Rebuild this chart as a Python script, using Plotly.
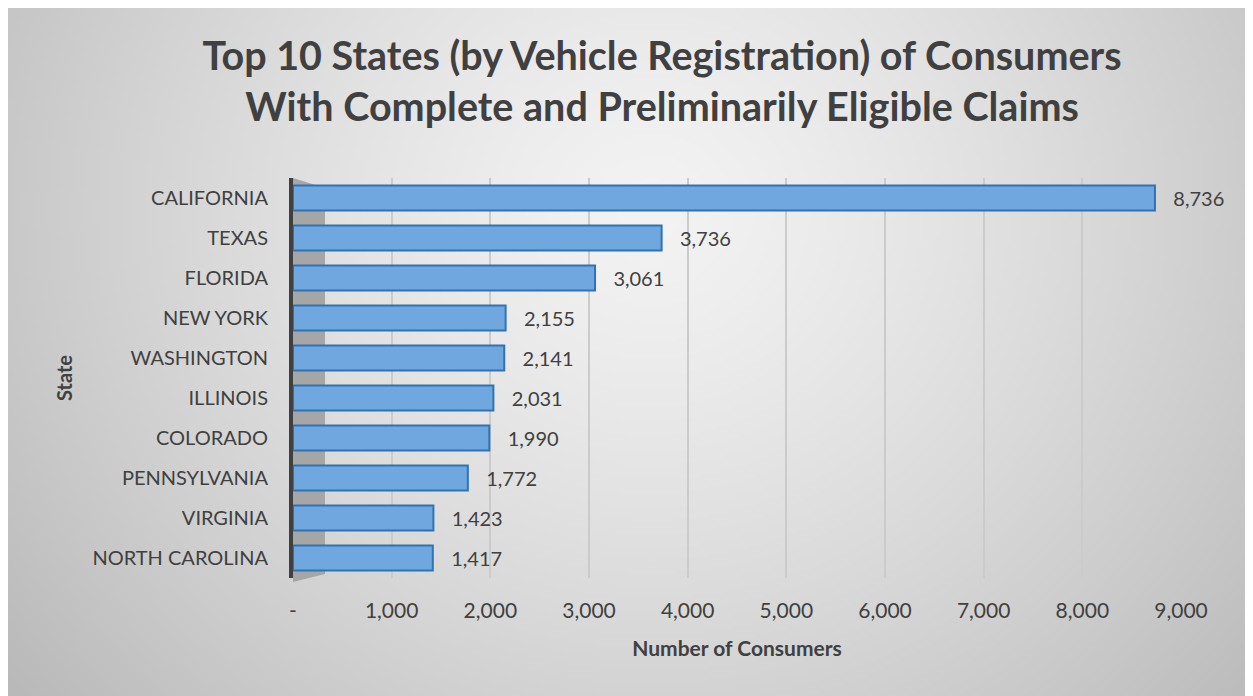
import base64, struct, zlib
import numpy as np
import plotly.graph_objects as go

states = ["CALIFORNIA", "TEXAS", "FLORIDA", "NEW YORK", "WASHINGTON", "ILLINOIS",
          "COLORADO", "PENNSYLVANIA", "VIRGINIA", "NORTH CAROLINA"]
consumers = [8736, 3736, 3061, 2155, 2141, 2031, 1990, 1772, 1423, 1417]
tick_vals = [0, 1000, 2000, 3000, 4000, 5000, 6000, 7000, 8000, 9000]
tick_text = ["-", "1,000", "2,000", "3,000", "4,000", "5,000", "6,000", "7,000", "8,000", "9,000"]

W, H = 1253, 696
ML, MR, MT, MB = 285, 80, 170, 126
PW, PH = W - ML - MR, H - MT - MB

# background gradient image (decoration)
def png_data_uri(arr):
    h, w = arr.shape
    raw = b"".join(b"\x00" + bytes(row.astype(np.uint8).tolist()) for row in arr)
    def chunk(t, d):
        c = struct.pack(">I", len(d)) + t + d
        return c + struct.pack(">I", zlib.crc32(t + d) & 0xffffffff)
    png = b"\x89PNG\r\n\x1a\n" + chunk(b"IHDR", struct.pack(">IIBBBBB", w, h, 8, 0, 0, 0, 0)) \
        + chunk(b"IDAT", zlib.compress(raw, 9)) + chunk(b"IEND", b"")
    return "data:image/png;base64," + base64.b64encode(png).decode()

gw, gh = 313, 174
yy, xx = np.mgrid[0:gh, 0:gw]
d = np.sqrt(((xx - 160) / 160.0) ** 2 + ((yy - 50) / 150.0) ** 2)
grad = np.clip(243 - 42 * d ** 1.3, 185, 245)

x0p = -ML / PW
x1p = (W - ML) / PW
y1p = 1 + MT / PH
y0p = -MB / PH

fig = go.Figure()
fig.add_trace(go.Bar(
    y=states, x=consumers, orientation="h",
    marker=dict(color="#70A7DF", line=dict(color="#2E74B5", width=2)),
    width=0.62,
    text=[f"   {v:,}" for v in consumers], textposition="outside",
    textfont=dict(family="Lato", size=20, color="#404040"),
    cliponaxis=False, showlegend=False,
))

fig.update_layout(
    width=W, height=H,
    margin=dict(l=ML, r=MR, t=MT, b=MB),
    paper_bgcolor="white", plot_bgcolor="rgba(0,0,0,0)",
    title=dict(text="Top 10 States (by Vehicle Registration) of Consumers<br>With Complete and Preliminarily Eligible Claims",
               x=0.522, xanchor="center", y=0.911, yanchor="middle",
               font=dict(family="Lato", size=39.5, color="#404040", weight="bold")),
    font=dict(family="Lato", color="#404040"),
    images=[dict(source=png_data_uri(grad), xref="paper", yref="paper",
                 x=x0p, y=y1p, sizex=x1p - x0p, sizey=y1p - y0p,
                 xanchor="left", yanchor="top", sizing="stretch", layer="below")],
    shapes=[dict(type="path", xref="paper", yref="paper",
                 path=f"M 0 1.0 L {32/PW} {0.975} L {32/PW} 0.01 L 0 -0.01 Z",
                 fillcolor="#a6a6a6", line=dict(width=0), layer="below")],
)
fig.update_xaxes(range=[0, 9000], tickvals=tick_vals, ticktext=tick_text,
                 tickfont=dict(family="Lato", size=21, color="#404040"),
                 showgrid=True, gridcolor="#cbcbcb", gridwidth=2, zeroline=False,
                 ticks="outside", ticklen=14, tickcolor="rgba(0,0,0,0)",
                 title=dict(text="Number of Consumers", standoff=20,
                            font=dict(family="Lato", size=21, color="#404040", weight="bold")))
fig.update_yaxes(autorange="reversed", showline=True, linecolor="#404040", linewidth=4,
                 tickfont=dict(family="Lato", size=20, color="#404040"),
                 ticks="outside", ticklen=17, tickcolor="rgba(0,0,0,0)",
                 title=dict(text="State", standoff=15,
                            font=dict(family="Lato", size=20, color="#404040", weight="bold")))

fig.write_html("out.html")
